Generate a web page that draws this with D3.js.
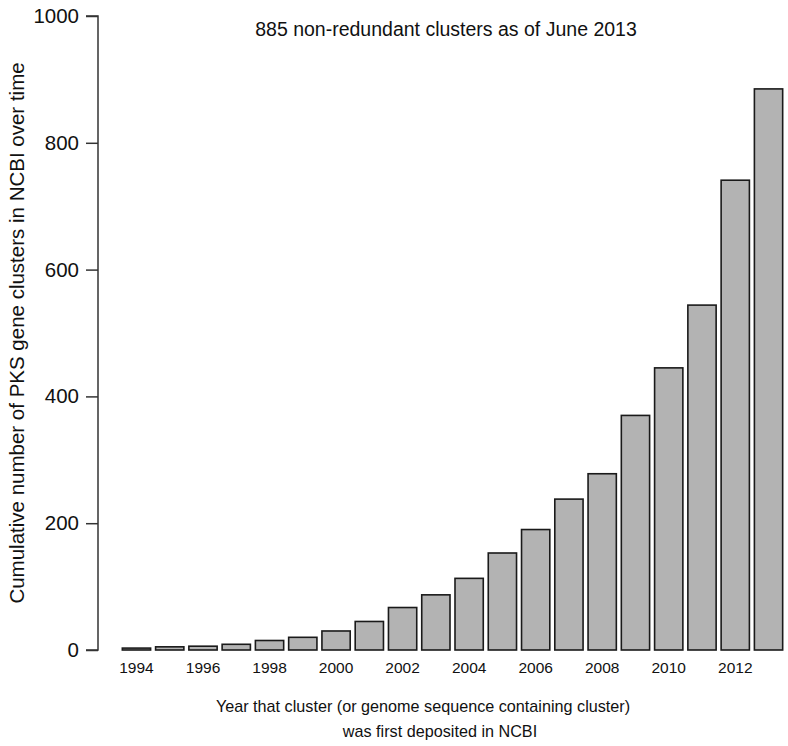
<!DOCTYPE html>
<html><head><meta charset="utf-8">
<script src="https://cdn.jsdelivr.net/npm/d3@7"></script>
<style>body{margin:0;background:#fff;} text{font-family:"Liberation Sans",Arial,sans-serif;fill:#111;}</style>
</head><body>
<svg id="c" width="788" height="746"></svg>
<script>
const years = [1994,1995,1996,1997,1998,1999,2000,2001,2002,2003,2004,2005,2006,2007,2008,2009,2010,2011,2012,2013];
const counts = [3,5,6,9,15,20,30,45,67,87,113,153,190,238,278,370,445,544,741,885];
const yTicks = [0,200,400,600,800,1000];
const xLabelYears = [1994,1996,1998,2000,2002,2004,2006,2008,2010,2012];
const title = "885 non-redundant clusters as of June 2013";
const xTitle = ["Year that cluster (or genome sequence containing cluster)","was first deposited in NCBI"];
const yTitle = "Cumulative number of PKS gene clusters in NCBI over time";

(function(){
const svg = d3.select("#c");
const left = 98, topY = 16, bottomY = 650;
const barStart = 120, barEnd = 785;
const x = d3.scaleBand().domain(years).range([barStart, barEnd]).paddingInner(0.15).paddingOuter(0.07);
const y = d3.scaleLinear().domain([0,1000]).range([bottomY, topY]);

svg.append("g").selectAll("rect").data(years).join("rect")
  .attr("x", d => x(d)).attr("width", x.bandwidth())
  .attr("y", (d,i) => y(counts[i])).attr("height", (d,i) => y(0) - y(counts[i]))
  .attr("fill", "#b3b3b3").attr("stroke", "#1a1a1a").attr("stroke-width", 1.6);

const yAxis = svg.append("g").attr("transform", `translate(${left},0)`)
  .call(d3.axisLeft(y).tickValues(yTicks).tickSize(12).tickPadding(7).tickFormat(d3.format("d")));
yAxis.select(".domain").attr("stroke","#333").attr("stroke-width",1.5).attr("d", `M-12,${y(1000)}H0V${y(0)}H-12`);
yAxis.selectAll(".tick line").attr("stroke","#333").attr("stroke-width",1.5);
yAxis.selectAll(".tick text").attr("font-size", 20.5).attr("fill","#111");

const xAxis = svg.append("g").attr("transform", `translate(0,${bottomY})`)
  .call(d3.axisBottom(x).tickValues(xLabelYears).tickSize(0).tickPadding(12));
xAxis.select(".domain").remove();
xAxis.selectAll(".tick text").attr("font-size", 15.5).attr("fill","#111");

svg.append("text").attr("x", 446).attr("y", 36).attr("text-anchor","middle").attr("font-size",19.5).text(title);
svg.append("text").attr("x", 423).attr("y", 712).attr("text-anchor","middle").attr("font-size",16.2).text(xTitle[0]);
svg.append("text").attr("x", 440).attr("y", 737).attr("text-anchor","middle").attr("font-size",16.2).text(xTitle[1]);
svg.append("text").attr("transform", `translate(24,333) rotate(-90)`).attr("text-anchor","middle").attr("font-size",20.5).text(yTitle);
})();
</script>
</body></html>
